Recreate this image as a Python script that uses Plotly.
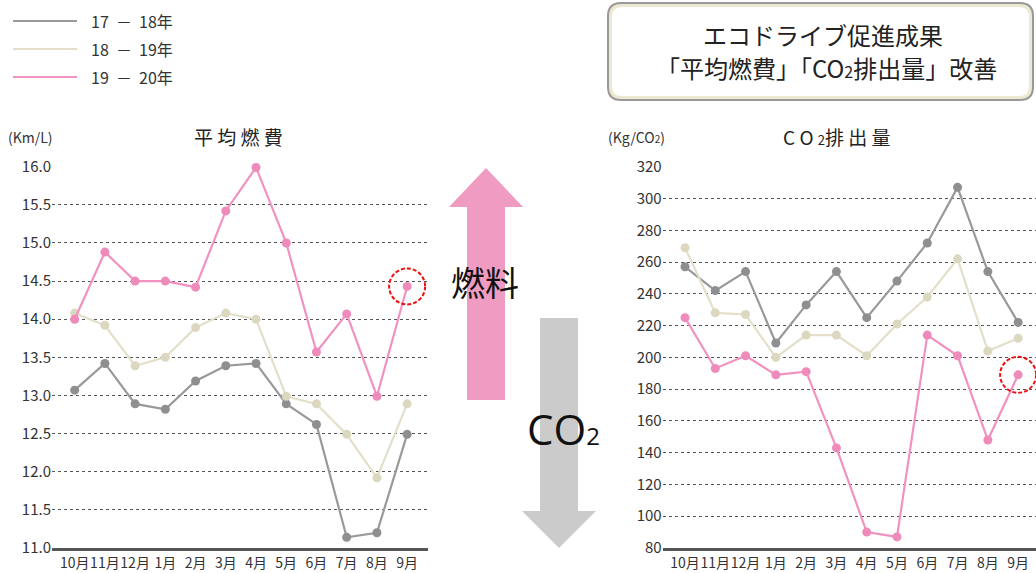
import plotly.graph_objects as go

W, H = 1036, 573
months = ["10月", "11月", "12月", "1月", "2月", "3月", "4月", "5月", "6月", "7月", "8月", "9月"]
series_names = ["17 － 18年", "18 － 19年", "19 － 20年"]
series_colors = ["#999999", "#e3dfc9", "#f192c0"]
marker_colors = ["#8f8f8f", "#dcd8c0", "#ee8bbb"]

fuel_1718 = [13.07, 13.42, 12.89, 12.82, 13.19, 13.39, 13.42, 12.89, 12.62, 11.14, 11.20, 12.49]
fuel_1819 = [14.08, 13.92, 13.39, 13.50, 13.89, 14.08, 14.00, 12.99, 12.89, 12.49, 11.92, 12.89]
fuel_1920 = [14.00, 14.88, 14.50, 14.50, 14.42, 15.42, 15.99, 15.00, 13.57, 14.07, 12.99, 14.43]

co2_1718 = [257, 242, 254, 209, 233, 254, 225, 248, 272, 307, 254, 222]
co2_1819 = [269, 228, 227, 200, 214, 214, 201, 221, 238, 262, 204, 212]
co2_1920 = [225, 193, 201, 189, 191, 143, 90, 87, 214, 201, 148, 189]

fuel_ticks = [11.0, 11.5, 12.0, 12.5, 13.0, 13.5, 14.0, 14.5, 15.0, 15.5, 16.0]
co2_ticks = list(range(80, 321, 20))

FONT = "Noto Sans CJK JP"
fig = go.Figure()

for i, (vals, name) in enumerate(zip([fuel_1718, fuel_1819, fuel_1920], series_names)):
    fig.add_trace(go.Scatter(x=months, y=vals, name=name, mode="lines+markers",
                             line=dict(color=series_colors[i], width=2.2),
                             marker=dict(color=marker_colors[i], size=9),
                             cliponaxis=False, showlegend=False, xaxis="x", yaxis="y"))
for i, (vals, name) in enumerate(zip([co2_1718, co2_1819, co2_1920], series_names)):
    fig.add_trace(go.Scatter(x=months, y=vals, name=name, mode="lines+markers",
                             line=dict(color=series_colors[i], width=2.2),
                             marker=dict(color=marker_colors[i], size=9),
                             cliponaxis=False, showlegend=False, xaxis="x2", yaxis="y2"))

def px(x):
    return x / W

def py(y):
    return 1 - y / H

ydom = [py(548), py(166.7)]
axis_common = dict(showgrid=False, showline=True, linecolor="#555555", linewidth=3,
                   ticks="", tickangle=0, tickfont=dict(family=FONT, size=14, color="#333333"),
                   type="category", fixedrange=True, automargin=False)
yaxis_common = dict(showgrid=True, gridcolor="#555555", griddash="dot", gridwidth=1.2,
                    showline=False, zeroline=False, ticks="", automargin=False,
                    tickfont=dict(family=FONT, size=15, color="#333333"), fixedrange=True)

fig.update_layout(
    width=W, height=H, margin=dict(l=0, r=0, t=0, b=0, autoexpand=False),
    paper_bgcolor="white", plot_bgcolor="white", showlegend=False,
    xaxis=dict(domain=[px(52), px(428)], range=[-0.75, 11.69], anchor="y", **axis_common),
    yaxis=dict(domain=ydom, range=[11, 16], tickvals=fuel_ticks,
               ticktext=[f"{v:.1f}" for v in fuel_ticks], anchor="x", **yaxis_common),
    xaxis2=dict(domain=[px(662.7), 1.0], range=[-0.737, 11.59], anchor="y2", **axis_common),
    yaxis2=dict(domain=ydom, range=[80, 320], tickvals=co2_ticks, anchor="x2", **yaxis_common),
)

shapes = []
annotations = []

def sub2(size):
    return f"<span style='font-size:{size}px'>2</span>"

# Legend
legend_y = [21, 49, 77]
for i, name in enumerate(series_names):
    shapes.append(dict(type="line", xref="paper", yref="paper", x0=px(13), x1=px(77),
                       y0=py(legend_y[i]), y1=py(legend_y[i]),
                       line=dict(color=series_colors[i], width=2)))
    annotations.append(dict(text=name.replace(" ", "  "), xref="paper", yref="paper", x=px(89), y=py(legend_y[i]),
                            xanchor="left", yanchor="middle", showarrow=False,
                            font=dict(family=FONT, size=16, color="#333333")))

# Title box
def rrect(x0, y0, x1, y1, r):
    X0, X1 = px(x0), px(x1)
    Y0, Y1 = py(y1), py(y0)
    rx, ry = r / W, r / H
    return (f"M {X0+rx},{Y1} L {X1-rx},{Y1} Q {X1},{Y1} {X1},{Y1-ry} "
            f"L {X1},{Y0+ry} Q {X1},{Y0} {X1-rx},{Y0} L {X0+rx},{Y0} "
            f"Q {X0},{Y0} {X0},{Y0+ry} L {X0},{Y1-ry} Q {X0},{Y1} {X0+rx},{Y1} Z")

shapes.append(dict(type="path", xref="paper", yref="paper", path=rrect(608, 3, 1033, 100, 13),
                   fillcolor="#ece8d2", line=dict(color="#999999", width=2), layer="below"))
shapes.append(dict(type="path", xref="paper", yref="paper", path=rrect(612, 7, 1029, 96, 10),
                   fillcolor="white", line=dict(width=0), layer="below"))
annotations.append(dict(text="エコドライブ促進成果", xref="paper", yref="paper",
                        x=px(823), y=py(35), xanchor="center", yanchor="middle", showarrow=False,
                        font=dict(family=FONT, size=24, color="#222222")))
annotations.append(dict(text="「平均燃費」「CO" + sub2(16) + "排出量」改善", xref="paper", yref="paper",
                        x=px(826), y=py(68), xanchor="center", yanchor="middle", showarrow=False,
                        font=dict(family=FONT, size=24, color="#222222")))

# Chart titles and units
annotations.append(dict(text="平 均 燃 費", xref="paper", yref="paper", x=px(238), y=py(137),
                        xanchor="center", yanchor="middle", showarrow=False,
                        font=dict(family=FONT, size=19, color="#222222")))
annotations.append(dict(text="(Km/L)", xref="paper", yref="paper", x=px(6), y=py(137),
                        xanchor="left", yanchor="middle", showarrow=False,
                        font=dict(family=FONT, size=14, color="#333333")))
annotations.append(dict(text="C O " + sub2(13) + "排 出 量", xref="paper", yref="paper", x=px(836), y=py(137),
                        xanchor="center", yanchor="middle", showarrow=False,
                        font=dict(family=FONT, size=19, color="#222222")))
annotations.append(dict(text="(Kg/CO" + sub2(10) + ")", xref="paper", yref="paper", x=px(606), y=py(137),
                        xanchor="left", yanchor="middle", showarrow=False,
                        font=dict(family=FONT, size=14, color="#333333")))

# Arrows
def poly(pts):
    return "M " + " L ".join(f"{px(x)},{py(y)}" for x, y in pts) + " Z"

shapes.append(dict(type="path", xref="paper", yref="paper", layer="below",
                   path=poly([(467, 400), (467, 207), (449, 207), (486, 168), (523, 207), (505, 207), (505, 400)]),
                   fillcolor="#f09cc2", line=dict(width=0)))
shapes.append(dict(type="path", xref="paper", yref="paper", layer="below",
                   path=poly([(540, 318), (540, 511), (522, 511), (559, 548), (596, 511), (578, 511), (578, 318)]),
                   fillcolor="#cbcbcb", line=dict(width=0)))
annotations.append(dict(text="燃料", xref="paper", yref="paper", x=px(485), y=py(281),
                        xanchor="center", yanchor="middle", showarrow=False,
                        font=dict(family=FONT, size=34, color="#111111")))
annotations.append(dict(text="CO" + sub2(24), xref="paper", yref="paper", x=px(563), y=py(428),
                        xanchor="center", yanchor="middle", showarrow=False,
                        font=dict(family="Open Sans", size=42, color="#111111")))

# Highlight circles around the last point of 19-20
for xr, yr, vals in [("x", "y", fuel_1920), ("x2", "y2", co2_1920)]:
    shapes.append(dict(type="circle", xref=xr, yref=yr, xsizemode="pixel", ysizemode="pixel",
                       xanchor=months[-1], yanchor=vals[-1], x0=-18, x1=18, y0=-18, y1=18,
                       line=dict(color="#ee1111", width=2, dash="4px,2px")))

fig.update_layout(shapes=shapes, annotations=annotations)
fig.write_html("out.html")
